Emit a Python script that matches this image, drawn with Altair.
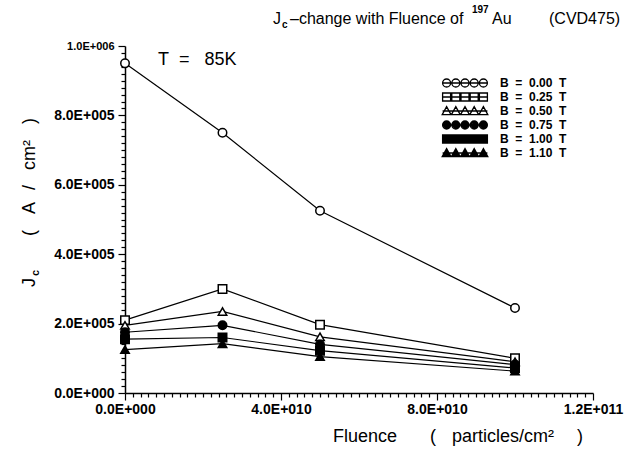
import altair as alt
import pandas as pd

# ---------------- data ----------------
fluence = [0.0, 2.5e10, 5.0e10, 1.0e11]
b_values = [0.00, 0.25, 0.50, 0.75, 1.00, 1.10]
jc_b000 = [9.50e5, 7.50e5, 5.25e5, 2.45e5]
jc_b025 = [2.10e5, 3.00e5, 1.97e5, 1.00e5]
jc_b050 = [1.95e5, 2.35e5, 1.62e5, 0.90e5]
jc_b075 = [1.75e5, 1.95e5, 1.40e5, 0.82e5]
jc_b100 = [1.55e5, 1.60e5, 1.22e5, 0.72e5]
jc_b110 = [1.25e5, 1.42e5, 1.05e5, 0.63e5]
series = [jc_b000, jc_b025, jc_b050, jc_b075, jc_b100, jc_b110]

x_major = [0, 40000000000, 80000000000, 120000000000]
x_major_labels = ["0.0E+000", "4.0E+010", "8.0E+010", "1.2E+011"]
y_major = [0, 200000, 400000, 600000, 800000, 1000000]
y_major_labels = ["0.0E+000", "2.0E+005", "4.0E+005", "6.0E+005", "8.0E+005", "1.0E+006"]
x_minor = list(range(0, 120000000001, 2000000000))
y_minor = list(range(0, 1000001, 20000))

NB = "\u00a0"
b_keys = ["%.2f" % v for v in b_values]

rows = []
for key, vals in zip(b_keys, series):
    for f, j in zip(fluence, vals):
        rows.append({"fluence": f, "jc": j, "B": key})
df = pd.DataFrame(rows)

shapes = ["circle", "square", "triangle-up", "circle", "square", "triangle-up"]
fills = ["white", "white", "white", "black", "black", "black"]


def one_shape(kind, c, r):
    if kind == "circle":
        return "M%.2f,0A%.2f,%.2f 0 1,0 %.2f,0A%.2f,%.2f 0 1,0 %.2f,0Z" % (
            c - r, r, r, c + r, r, r, c - r)
    if kind == "square":
        return "M%.2f,%.2fH%.2fV%.2fH%.2fZ" % (c - r, -r, c + r, r, c - r)
    return "M%.2f,%.2fL%.2f,%.2fL%.2f,%.2fZ" % (c, -1.1 * r, c + 1.1 * r, 0.9 * r, c - 1.1 * r, 0.9 * r)


def strip(kind, solid):
    centers = [-4.6, -2.3, 0.0, 2.3, 4.6]
    radii = [1.0, 0.7, 0.4, 0.12] if solid else [1.0]
    p = ""
    for c in centers:
        for r in radii:
            p += one_shape(kind, c, r)
    p += "M-5.6,0L5.6,0"
    return p


legend_paths = [strip(s, f == "black") for s, f in zip(shapes, fills)]

FONT = "Liberation Sans"


def label_expr(vals, labels):
    expr = "''"
    for v, l in reversed(list(zip(vals, labels))):
        expr = "datum.value == %s ? '%s' : (%s)" % (v, l, expr)
    return expr


def major_test(vals):
    return "indexof([" + ",".join(str(v) for v in vals) + "], datum.value) >= 0"


x_axis = alt.Axis(
    values=x_minor, labelExpr=label_expr(x_major, x_major_labels),
    tickSize={"condition": {"test": major_test(x_major), "value": 7}, "value": 4},
    tickWidth=1.2, tickColor="black", domainColor="black", domainWidth=1.5,
    labelFont=FONT, labelFontSize=14, labelFontWeight="bold", labelColor="black",
    labelPadding=2, labelOverlap=False, labelFlush=False, labelBound=False,
    grid=False, title=None,
)
y_axis = alt.Axis(
    values=y_minor, labelExpr=label_expr(y_major, y_major_labels),
    tickSize={"condition": {"test": major_test(y_major), "value": 7}, "value": 4},
    tickWidth=1.2, tickColor="black", domainColor="black", domainWidth=1.5,
    labelFont=FONT,
    labelFontSize={"condition": {"test": "datum.value == 1000000", "value": 11}, "value": 14},
    labelFontWeight="bold", labelColor="black",
    labelPadding=4, labelOverlap=False, labelFlush=False, labelBound=False,
    grid=False, title=None,
)

X = alt.X("fluence:Q", scale=alt.Scale(domain=[0, 1.2e11], nice=False), axis=x_axis)
Y = alt.Y("jc:Q", scale=alt.Scale(domain=[0, 1e6], nice=False), axis=y_axis)

base = alt.Chart(df)

lines = base.mark_line(color="black", strokeWidth=1.2).encode(x=X, y=Y, detail="B:N")

points = base.mark_point(size=72, strokeWidth=1.5, color="black", opacity=1).encode(
    x=X, y=Y,
    shape=alt.Shape("B:N", scale=alt.Scale(domain=b_keys, range=shapes), legend=None),
    fill=alt.Fill("B:N", scale=alt.Scale(domain=b_keys, range=fills), legend=None),
)

legend_label = "'B" + NB * 2 + "=" + NB * 2 + "' + datum.label + '" + NB * 2 + "T'"
legend_layer = base.transform_filter("false").mark_point(
    size=64, strokeWidth=1.3, color="black", opacity=1, filled=False
).encode(
    x=X, y=Y,
    shape=alt.Shape(
        "B:N", scale=alt.Scale(domain=b_keys, range=legend_paths),
        legend=alt.Legend(
            orient="none", legendX=334, legendY=31, title=None, padding=0,
            labelFont=FONT, labelFontSize=12, labelFontWeight="bold", labelColor="black",
            labelExpr=legend_label,
            labelOffset=29, symbolSize=64, symbolStrokeWidth=1.3,
            symbolStrokeColor="black", rowPadding=0,
        ),
    ),
)

one = pd.DataFrame({"a": [0]})


def txt(s, x, y, size, angle=0, weight="normal"):
    return alt.Chart(one).mark_text(
        align="left", baseline="alphabetic", font=FONT, fontSize=size,
        fontWeight=weight, color="black", angle=angle,
    ).encode(x=alt.value(x), y=alt.value(y), text=alt.value(s))


annotations = [
    # title
    txt("J", 148, -22, 16),
    txt("c", 157, -18, 10, weight="bold"),
    txt("\u2013change with Fluence of", 165, -22, 16),
    txt("197", 347, -33, 10, weight="bold"),
    txt("Au", 367, -22, 16),
    txt("(CVD475)", 424, -22, 16),
    # temperature
    txt("T" + NB * 2 + "=" + NB * 3 + "85K", 33, 19, 18),
    # x title
    txt("Fluence", 208, 396, 18),
    txt("(", 305, 396, 18),
    txt("particles/cm\u00b2", 327, 396, 18),
    txt(")", 452, 396, 18),
    # y title (rotated)
    txt("J", -90, 241, 18, angle=270),
    txt("c", -86, 230, 11, angle=270, weight="bold"),
    txt("(", -90, 190, 18, angle=270),
    txt("A", -90, 168, 18, angle=270),
    txt("/", -90, 144, 18, angle=270),
    txt("cm\u00b2", -90, 124, 18, angle=270),
    txt(")", -90, 78, 18, angle=270),
]

chart = alt.layer(lines, points, legend_layer, *annotations).resolve_scale(
    shape="independent", fill="independent"
).properties(
    width=468, height=347,
    autosize=alt.AutoSizeParams(type="none"),
    padding={"left": 125, "top": 46, "right": 33, "bottom": 56},
    background="white",
).configure_view(stroke=None)

chart.save("out.html", embed_options={"renderer": "svg", "actions": False})
